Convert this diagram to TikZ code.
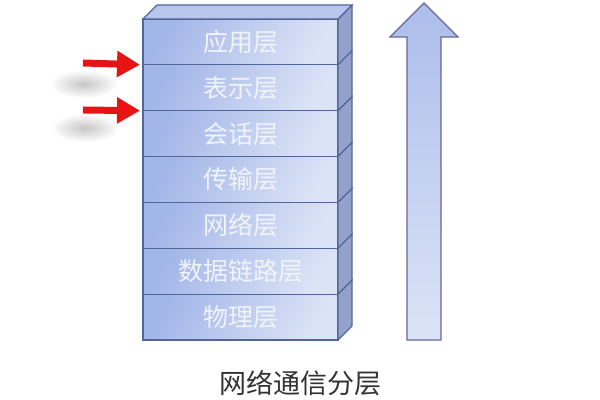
\documentclass[tikz,border=0pt]{standalone}
\usepackage{fontspec}
\setmainfont{Noto Sans CJK SC}
\usepackage{tikz}
\usetikzlibrary{positioning,arrows.meta,fadings}
\definecolor{layer dark}{rgb}{0.6392, 0.7137, 0.9098}
\definecolor{layer light}{rgb}{0.8588, 0.8902, 0.9647}
\definecolor{layer side}{rgb}{0.5804, 0.6353, 0.7961}
\definecolor{layer top}{rgb}{0.7216, 0.7765, 0.9333}
\definecolor{layer edge}{rgb}{0.3216, 0.4000, 0.6039}
\definecolor{layer text}{rgb}{0.9451, 0.9569, 0.9843}
\definecolor{flow red}{rgb}{0.9020, 0.0784, 0.0784}
\tikzfading[name=blur out, inner color=transparent!45, outer color=transparent!100]
\tikzset{
	layer/.style={draw=layer edge, line width=0.6pt, shading=axis,
		left color=layer dark, right color=layer light, shading angle=60,
		minimum width=97.5pt, minimum height=22.93pt, inner sep=0pt,
		outer sep=0pt, text=layer text, font=\fontsize{12.5}{14}\selectfont},
	side/.style={draw=layer edge, line width=0.6pt, fill=layer side},
	flow/.style={draw=flow red, line width=3.5pt,
		-{Triangle[length=11.5pt,width=12.5pt]}, shorten >=1.5pt}
}

\begin{document}
\begin{tikzpicture}[x=0.5pt, y=0.5pt]
			\useasboundingbox (0, 0) rectangle (600, 400);
			% the stack of layers
			\node[layer, anchor=north west] (app) at (143, 381) {应用层};
			\node[layer, below=0pt of app] (pres) {表示层};
			\node[layer, below=0pt of pres] (sess) {会话层};
			\node[layer, below=0pt of sess] (trans) {传输层};
			\node[layer, below=0pt of trans] (net) {网络层};
			\node[layer, below=0pt of net] (link) {数据链路层};
			\node[layer, below=0pt of link] (phys) {物理层};
			% side and top faces
			\foreach \n in {app, pres, sess, trans, net, link, phys}
				\draw[side] (\n.north east) -- ++(14, 14)
					-- ([shift={(7pt, 7pt)}]\n.south east) -- (\n.south east) -- cycle;
			\draw[side, fill=layer top] (app.north west) -- ++(14, 14)
				-- ([shift={(7pt, 7pt)}]app.north east) -- (app.north east) -- cycle;
			% shadows behind the red arrows
			\fill[gray!80, path fading=blur out] (84, 316) ellipse (34 and 14);
			\fill[gray!80, path fading=blur out] (85, 272) ellipse (34 and 14);
			% red arrows
			\coordinate (in1) at (83, 337);
			\coordinate (in2) at (83, 290);
			\draw[flow] (in1) -- (app.south west);
			\draw[flow] (in2) -- (pres.south west);
			% big arrow upwards
			\draw[draw=gray!80!blue, line width=0.6pt, shading=axis,
				top color=layer dark!90!white, bottom color=layer light]
				(407, 60) -- (407, 363) -- (390, 363) -- (424, 397)
				-- (458, 363) -- (441, 363) -- (441, 60) -- cycle;
			% caption
			\node[text=black!80, font=\fontsize{13.5}{15}\selectfont] (caption) at (300, 17) {网络通信分层};
		\end{tikzpicture}
\end{document}
